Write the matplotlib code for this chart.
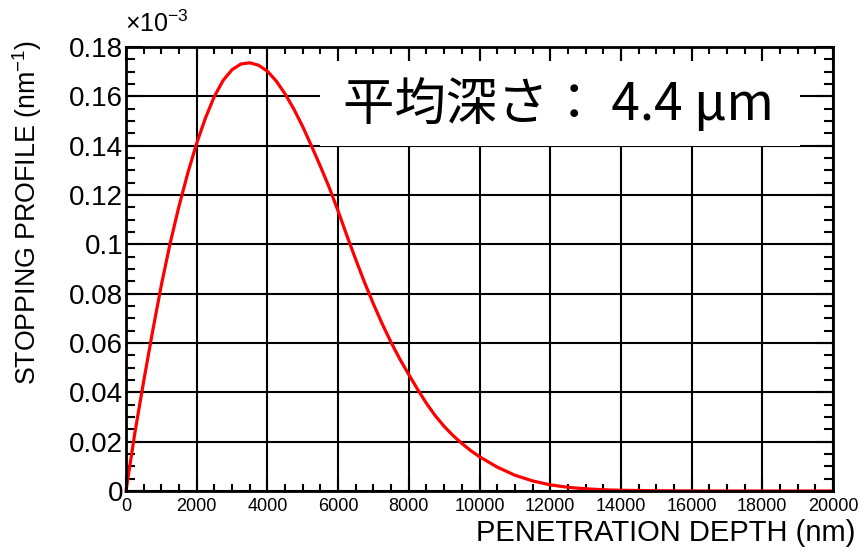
import numpy as np
import matplotlib
matplotlib.use('Agg')
import matplotlib.pyplot as plt
from matplotlib.ticker import MultipleLocator, FixedLocator
from matplotlib.patches import Rectangle

# stopping profile (values in units of 1e-3 nm^-1)
depth_nm = [0, 250, 500, 750, 1000, 1250, 1500, 1750, 2000, 2250, 2500, 2750,
            3000, 3250, 3500, 3750, 4000, 4250, 4500, 4750, 5000, 5250, 5500,
            5750, 6000, 6250, 6500, 6750, 7000, 7250, 7500, 7750, 8000, 8250,
            8500, 8750, 9000, 9250, 9500, 9750, 10000, 10500, 11000, 11500,
            12000, 12500, 13000, 13500, 14000, 15000, 16000, 17000, 20000]
profile = [0, 0.0235, 0.0445, 0.0645, 0.0835, 0.1005, 0.1155, 0.1290, 0.1410,
           0.1513, 0.1600, 0.1665, 0.1708, 0.1731, 0.1736, 0.1726, 0.1702,
           0.1662, 0.1610, 0.1548, 0.1477, 0.1398, 0.1316, 0.1230, 0.1135,
           0.1035, 0.0938, 0.0845, 0.0758, 0.0677, 0.0602, 0.0534, 0.0472,
           0.0412, 0.0355, 0.0305, 0.0262, 0.0225, 0.0193, 0.0164, 0.0139,
           0.0097, 0.0064, 0.0041, 0.0025, 0.0015, 0.0009, 0.0005, 0.0003,
           0.0001, 0.00003, 0, 0]

x_ticks = [0, 2000, 4000, 6000, 8000, 10000, 12000, 14000, 16000, 18000, 20000]
y_ticks = [0, 0.02, 0.04, 0.06, 0.08, 0.1, 0.12, 0.14, 0.16, 0.18]
y_tick_labels = ['0', '0.02', '0.04', '0.06', '0.08', '0.1', '0.12', '0.14', '0.16', '0.18']

plt.rcParams['font.family'] = ['Liberation Sans', 'DejaVu Sans']
plt.rcParams['mathtext.fontset'] = 'custom'
plt.rcParams['mathtext.rm'] = 'Liberation Sans'
plt.rcParams['mathtext.it'] = 'Liberation Sans'

fig = plt.figure(figsize=(8.65, 5.52), dpi=100)
ax = fig.add_axes([126 / 865, 1 - 491 / 552, (833 - 126) / 865, (491 - 47) / 552])

ax.plot(depth_nm, profile, color='#ff0000', lw=2.3, zorder=3, clip_on=False)

ax.set_xlim(0, 20000)
ax.set_ylim(0, 0.18)

ax.xaxis.set_major_locator(FixedLocator(x_ticks))
ax.xaxis.set_minor_locator(MultipleLocator(500))
ax.yaxis.set_major_locator(FixedLocator(y_ticks))
ax.yaxis.set_minor_locator(MultipleLocator(0.005))
ax.set_xticklabels([str(t) for t in x_ticks], fontsize=13)
ax.set_yticklabels(y_tick_labels, fontsize=20)

ax.tick_params(which='both', direction='in', top=True, right=True, color='black', width=1.5)
ax.tick_params(axis='x', which='major', length=10, pad=5)
ax.tick_params(axis='x', which='minor', length=5)
ax.tick_params(axis='y', which='major', length=12, pad=2)
ax.tick_params(axis='y', which='minor', length=6.5)

ax.grid(True, which='major', color='black', lw=1.5)
ax.set_axisbelow(True)
for s in ax.spines.values():
    s.set_linewidth(2)
    s.set_zorder(4)

# axis titles, ROOT style
fig.text(855 / 865, 1 - 533 / 552, 'PENETRATION DEPTH (nm)', ha='right', va='center', fontsize=21)
fig.text(27 / 865, 1 - 212 / 552, 'STOPPING PROFILE (nm$^{-1}$)', ha='center', va='center',
         rotation=90, fontsize=19.3)
fig.text(125 / 865, 1 - 24 / 552, r'$\times$10$^{-3}$', ha='left', va='center', fontsize=18)

# white label box over the grid
ax.add_patch(Rectangle((0.275, 0.777), 0.678, 0.191, transform=ax.transAxes,
                       facecolor='white', edgecolor='none', zorder=4.5))
ax.text(0.612, 0.869, '平均深さ： 4.4 µm', transform=ax.transAxes, ha='center', va='center',
        fontsize=37, family=['Noto Sans CJK JP', 'DejaVu Sans'], zorder=5)

fig.savefig('out.png', dpi=100)
